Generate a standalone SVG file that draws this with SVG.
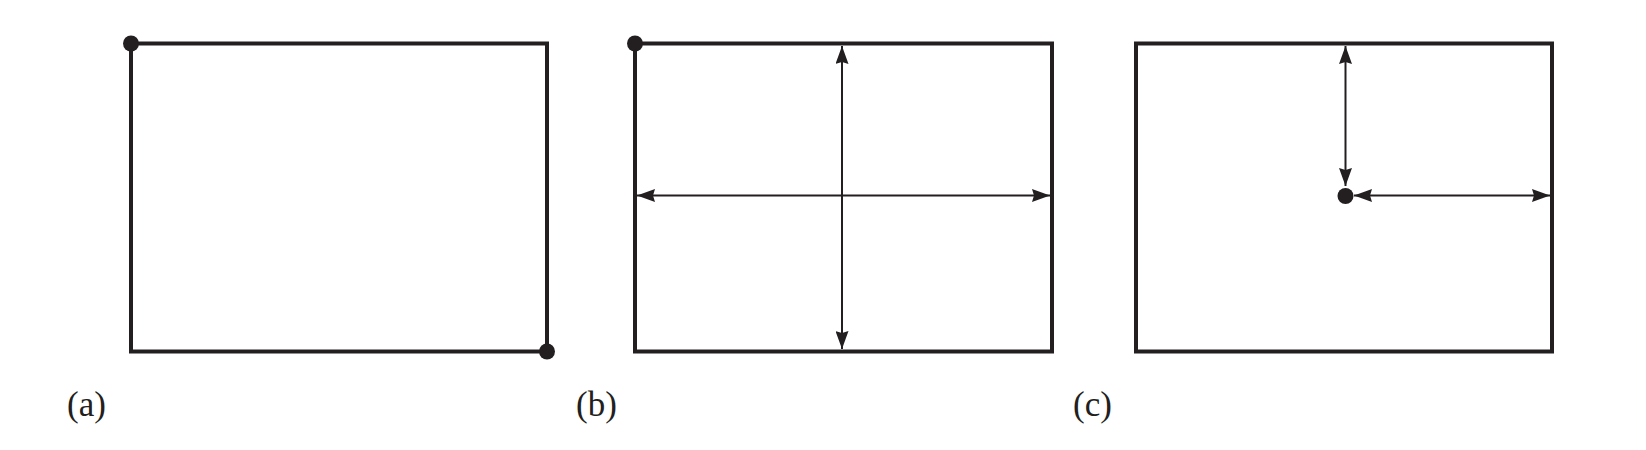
<svg xmlns="http://www.w3.org/2000/svg" width="1646" height="450" viewBox="0 0 1646 450">
<style>
.frame{fill:none;stroke:#231f20;stroke-width:4}
.arr{fill:none;stroke:#231f20;stroke-width:2}
.dot{fill:#231f20}
.lbl{font-family:"Liberation Serif",serif;font-size:35px;fill:#231f20}
</style>
<defs>
<marker id="ah" viewBox="0 0 18 13" refX="18" refY="6.5" markerWidth="18" markerHeight="13" markerUnits="userSpaceOnUse" orient="auto-start-reverse">
<path d="M0,0 L18,6.5 L0,13 L2,6.5 Z" fill="#231f20"/>
</marker>
</defs>
<rect width="1646" height="450" fill="#fff"/>
<g id="panel-a">
<rect class="frame" x="131" y="43.5" width="416" height="308"/>
<circle class="dot" cx="131" cy="43.5" r="8"/>
<circle class="dot" cx="547" cy="351.5" r="8"/>
<text class="lbl" x="67" y="416">(a)</text>
</g>
<g id="panel-b">
<rect class="frame" x="635" y="43.5" width="417" height="308"/>
<circle class="dot" cx="635" cy="43.5" r="8"/>
<text class="lbl" x="576" y="416">(b)</text>
</g>
<g id="panel-c">
<rect class="frame" x="1136" y="43.5" width="416" height="308"/>
<circle class="dot" cx="1345.5" cy="196" r="8"/>
<text class="lbl" x="1073" y="416">(c)</text>
</g>
<g id="connectors">
<line class="arr" x1="842" y1="46" x2="842" y2="349" marker-start="url(#ah)" marker-end="url(#ah)"/>
<line class="arr" x1="637" y1="195.5" x2="1050" y2="195.5" marker-start="url(#ah)" marker-end="url(#ah)"/>
<line class="arr" x1="1345.5" y1="46" x2="1345.5" y2="186" marker-start="url(#ah)" marker-end="url(#ah)"/>
<line class="arr" x1="1354" y1="195.5" x2="1550" y2="195.5" marker-start="url(#ah)" marker-end="url(#ah)"/>
</g>
</svg>
